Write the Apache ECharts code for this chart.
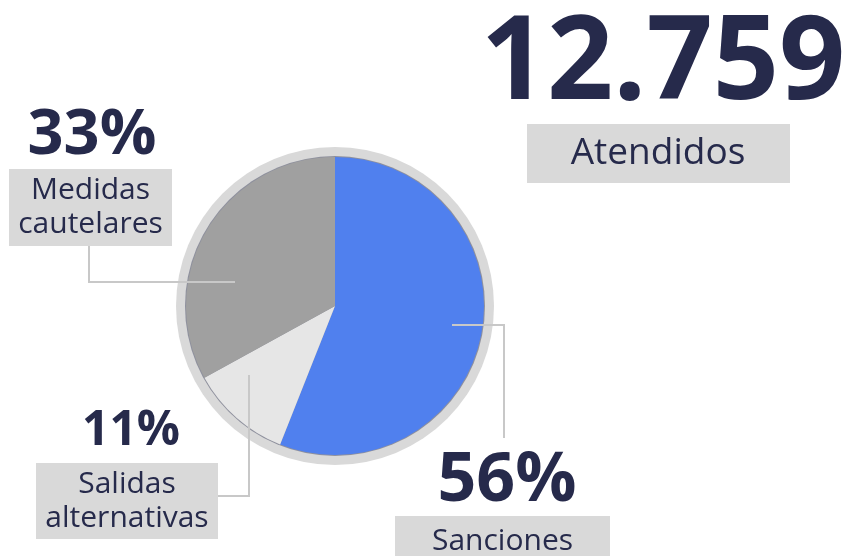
<!DOCTYPE html>
<html>
<head>
<meta charset="utf-8">
<script src="https://cdn.jsdelivr.net/npm/echarts@6/dist/echarts.min.js"></script>
<style>
  html, body { margin: 0; padding: 0; background: #fff; }
  #chart { width: 852px; height: 556px; }
</style>
</head>
<body>
<div id="chart"></div>
<script>
// datos
const categories = ['Sanciones', 'Salidas alternativas', 'Medidas cautelares']
const percentages = [56, 11, 33]
const sliceColors = ['#5080EE', '#E6E6E6', '#A0A0A0']
const totalLabel = '12.759'
const totalCaption = 'Atendidos'

const navy = '#262A4B'
const boxGray = '#D9D9D9'
const lineGray = '#C8C8C8'
const fontFamily = '"Open Sans", "Noto Sans", sans-serif'

const chart = echarts.init(document.getElementById('chart'))

// etiquetas (posición de cada bloque de texto)
const labelSpots = [
  { pctX: 507, pctY: 482, pctSize: 68, box: [395, 516, 215, 50], lines: ['Sanciones'] },
  { pctX: 131, pctY: 431, pctSize: 48, box: [36, 463, 182, 76], lines: ['Salidas', 'alternativas'] },
  { pctX: 92, pctY: 136, pctSize: 63, box: [9, 169, 163, 77], lines: ['Medidas', 'cautelares'] }
]

const graphics = []

// líneas guía
const leaders = [
  [[452, 325], [504, 325], [504, 438]],
  [[249, 375], [249, 496], [218, 496]],
  [[235, 282], [89, 282], [89, 246]]
]
leaders.forEach(pts => {
  graphics.push({
    type: 'polyline',
    shape: { points: pts },
    style: { stroke: lineGray, lineWidth: 2, fill: null },
    z: 10
  })
})

labelSpots.forEach((spot, i) => {
  const [bx, by, bw, bh] = spot.box
  graphics.push({
    type: 'rect',
    shape: { x: bx, y: by, width: bw, height: bh },
    style: { fill: boxGray },
    z: 11
  })
  const n = spot.lines.length
  spot.lines.forEach((ln, k) => {
    graphics.push({
      type: 'text',
      x: bx + bw / 2,
      y: by + bh / 2 + (k - (n - 1) / 2) * 34,
      style: {
        text: ln,
        fill: navy,
        font: '30px ' + fontFamily,
        align: 'center',
        verticalAlign: 'middle'
      },
      z: 12
    })
  })
  graphics.push({
    type: 'text',
    x: spot.pctX,
    y: spot.pctY,
    style: {
      text: percentages[i] + '%',
      fill: navy,
      font: 'bold ' + spot.pctSize + 'px ' + fontFamily,
      align: 'center',
      verticalAlign: 'middle'
    },
    z: 12
  })
})

// total atendidos
graphics.push({
  type: 'text',
  x: 663,
  y: 66,
  style: {
    text: totalLabel,
    fill: navy,
    font: 'bold 116px ' + fontFamily,
    align: 'center',
    verticalAlign: 'middle'
  },
  z: 12
})
graphics.push({
  type: 'rect',
  shape: { x: 527, y: 124, width: 263, height: 59 },
  style: { fill: boxGray },
  z: 11
})
graphics.push({
  type: 'text',
  x: 658,
  y: 153,
  style: {
    text: totalCaption,
    fill: navy,
    font: '37px ' + fontFamily,
    align: 'center',
    verticalAlign: 'middle'
  },
  z: 12
})

const option = {
  animation: false,
  backgroundColor: '#fff',
  series: [
    {
      // anillo exterior
      type: 'pie',
      center: [335, 306],
      radius: [0, 159],
      silent: true,
      z: 1,
      label: { show: false },
      labelLine: { show: false },
      itemStyle: { color: boxGray },
      data: [{ value: 1 }]
    },
    {
      // borde fino
      type: 'pie',
      center: [335, 306],
      radius: [0, 150],
      silent: true,
      z: 2,
      label: { show: false },
      labelLine: { show: false },
      itemStyle: { color: 'rgba(50,55,85,0.45)' },
      data: [{ value: 1 }]
    },
    {
      type: 'pie',
      center: [335, 306],
      radius: [0, 149],
      startAngle: 90,
      clockwise: true,
      z: 3,
      label: { show: false },
      labelLine: { show: false },
      itemStyle: { borderWidth: 0 },
      data: categories.map((c, i) => ({
        name: c,
        value: percentages[i],
        itemStyle: { color: sliceColors[i] }
      }))
    }
  ],
  graphic: graphics
}

chart.setOption(option)
</script>
</body>
</html>
